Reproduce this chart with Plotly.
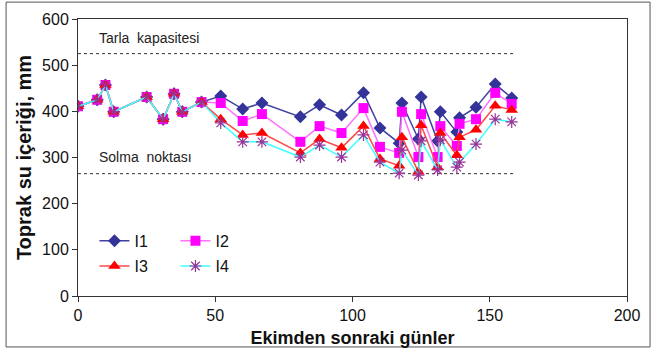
import plotly.graph_objects as go

days = [0, 7, 10, 13, 25, 31, 35, 38, 45, 52, 60, 67, 81, 88, 96, 104, 110,
        117, 118, 124, 125, 131, 132, 138, 139, 145, 152, 158]
common = [411, 425, 457, 399, 431, 383, 438, 399, 420]
I1 = common + [433, 405, 418, 388, 414, 392, 440, 364, 331, 418, 340, 431, 336, 399, 355, 386, 409, 459, 429]
I2 = common + [418, 379, 394, 334, 368, 353, 407, 323, 310, 399, 301, 394, 301, 368, 325, 373, 383, 440, 416]
I3 = common + [383, 349, 353, 310, 340, 321, 368, 297, 282, 344, 269, 370, 279, 353, 305, 344, 360, 412, 403]
I4 = common + [375, 334, 334, 301, 327, 301, 349, 290, 266, 316, 262, 336, 273, 338, 279, 290, 329, 383, 377]

field_capacity = 525
wilting_point = 265
ref_days = [0, 159]

fig = go.Figure()

fig.add_trace(go.Scatter(x=ref_days, y=[field_capacity] * 2, mode="lines",
                         line=dict(color="#333333", width=1, dash="dot"),
                         showlegend=False, hoverinfo="skip"))
fig.add_trace(go.Scatter(x=ref_days, y=[wilting_point] * 2, mode="lines",
                         line=dict(color="#333333", width=1, dash="dot"),
                         showlegend=False, hoverinfo="skip"))

fig.add_trace(go.Scatter(x=days, y=I1, name="I1", mode="lines+markers",
                         line=dict(color="#4040A0", width=1.5),
                         marker=dict(symbol="diamond", size=10, color="#333399"),
                         legend="legend"))
fig.add_trace(go.Scatter(x=days, y=I2, name="I2", mode="lines+markers",
                         line=dict(color="#FF70FF", width=1.5),
                         marker=dict(symbol="square", size=10, color="#FF00FF"),
                         legend="legend"))
fig.add_trace(go.Scatter(x=days, y=I3, name="I3", mode="lines+markers",
                         line=dict(color="#FF4848", width=1.5),
                         marker=dict(symbol="triangle-up", size=11, color="#FF0000"),
                         legend="legend2"))
fig.add_trace(go.Scatter(x=days, y=I4, name="I4", mode="lines+markers",
                         line=dict(color="#40FFFF", width=1.5),
                         marker=dict(symbol="asterisk-open", size=10, color="#993399",
                                     line=dict(color="#993399", width=1.2)),
                         legend="legend2"))

fig.add_annotation(x=7, y=559, xref="x", yref="y", text="Tarla  kapasitesi",
                   showarrow=False, xanchor="left", yanchor="middle",
                   font=dict(size=14, color="#222222", family="Liberation Sans, Arial"))
fig.add_annotation(x=7, y=301, xref="x", yref="y", text="Solma  noktası",
                   showarrow=False, xanchor="left", yanchor="middle",
                   font=dict(size=14, color="#222222", family="Liberation Sans, Arial"))

# outer chart border
fig.add_shape(type="rect", xref="paper", yref="paper",
              x0=-0.131, x1=1.042, y0=-0.184, y1=1.061,
              line=dict(color="#555555", width=1), fillcolor="rgba(0,0,0,0)")

legend_common = dict(orientation="h", xanchor="left", yanchor="middle",
                     bgcolor="rgba(255,255,255,0)", entrywidth=36,
                     entrywidthmode="pixels", traceorder="normal", itemwidth=30,
                     font=dict(size=16, color="#111111", family="Liberation Sans, Arial"))

fig.update_layout(
    width=654, height=358,
    margin=dict(l=78, r=27, t=19, b=62),
    paper_bgcolor="white", plot_bgcolor="white",
    font=dict(family="Liberation Sans, Arial", color="#111111"),
    legend=dict(x=0.03, y=0.199, **legend_common),
    legend2=dict(x=0.03, y=0.108, **legend_common),
    xaxis=dict(range=[0, 200], tickvals=[0, 50, 100, 150, 200],
               showline=True, linecolor="#333333", linewidth=1, mirror=True,
               ticks="outside", ticklen=5, tickcolor="#333333",
               showgrid=False, zeroline=False,
               tickfont=dict(size=16),
               title=dict(text="<b>Ekimden sonraki günler</b>", font=dict(size=18), standoff=8)),
    yaxis=dict(range=[0, 600], tickvals=[0, 100, 200, 300, 400, 500, 600],
               showline=True, linecolor="#333333", linewidth=1, mirror=True,
               ticks="outside", ticklen=5, tickcolor="#333333",
               showgrid=False, zeroline=False,
               tickfont=dict(size=16),
               title=dict(text="<b>Toprak su içeriği, mm</b>", font=dict(size=20), standoff=5)),
)

fig.write_html("out.html")
